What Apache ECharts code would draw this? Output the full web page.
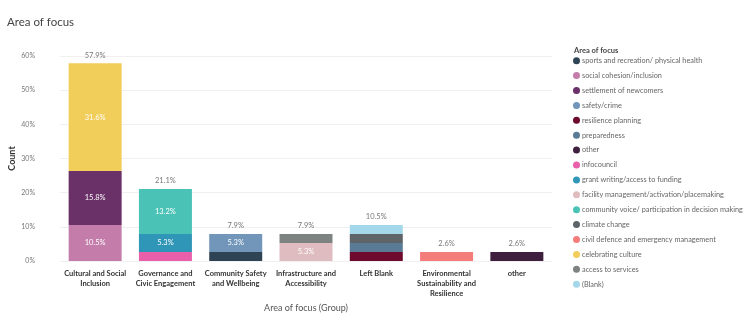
<!DOCTYPE html>
<html>
<head>
<meta charset="utf-8">
<script src="https://cdn.jsdelivr.net/npm/echarts@6/dist/echarts.min.js"></script>
<style>
  html, body { margin: 0; padding: 0; background: #fff; }
  #chart { width: 750px; height: 322px; }
</style>
</head>
<body>
<div id="chart"></div>
<script>
// Groups on the x axis
const categories = [
  'Cultural and Social\nInclusion',
  'Governance and\nCivic Engagement',
  'Community Safety\nand Wellbeing',
  'Infrastructure and\nAccessibility',
  'Left Blank',
  'Environmental\nSustainability and\nResilience',
  'other'
];

const yTicks = [0, 10, 20, 30, 40, 50, 60];

// Share of all responses (%), one array per area of focus, in stacking order
const sportsRecreation   = [0, 0, 2.632, 0, 0, 0, 0];
const socialCohesion     = [10.526, 0, 0, 0, 0, 0, 0];
const settlementNewcomers= [15.789, 0, 0, 0, 0, 0, 0];
const safetyCrime        = [0, 0, 5.263, 0, 0, 0, 0];
const resiliencePlanning = [0, 0, 0, 0, 2.632, 0, 0];
const preparedness       = [0, 0, 0, 0, 2.632, 0, 0];
const otherFocus         = [0, 0, 0, 0, 0, 0, 2.632];
const infocouncil        = [0, 2.632, 0, 0, 0, 0, 0];
const grantWriting       = [0, 5.263, 0, 0, 0, 0, 0];
const facilityManagement = [0, 0, 0, 5.263, 0, 0, 0];
const communityVoice     = [0, 13.158, 0, 0, 0, 0, 0];
const climateChange      = [0, 0, 0, 0, 2.632, 0, 0];
const civilDefence       = [0, 0, 0, 0, 0, 2.632, 0];
const celebratingCulture = [31.579, 0, 0, 0, 0, 0, 0];
const accessServices     = [0, 0, 0, 2.632, 0, 0, 0];
const blankFocus         = [0, 0, 0, 0, 2.632, 0, 0];

const seriesDefs = [
  ['sports and recreation/ physical health', sportsRecreation, '#2E4354'],
  ['social cohesion/inclusion', socialCohesion, '#C47DAB'],
  ['settlement of newcomers', settlementNewcomers, '#6A3068'],
  ['safety/crime', safetyCrime, '#7196B9'],
  ['resilience planning', resiliencePlanning, '#6E0A2E'],
  ['preparedness', preparedness, '#597B95'],
  ['other', otherFocus, '#3E1F3D'],
  ['infocouncil', infocouncil, '#EA5FA9'],
  ['grant writing/access to funding', grantWriting, '#3096B7'],
  ['facility management/activation/placemaking', facilityManagement, '#DFBCC0'],
  ['community voice/ participation in decision making', communityVoice, '#4AC3B6'],
  ['climate change', climateChange, '#5E6467'],
  ['civil defence and emergency management', civilDefence, '#F47C7B'],
  ['celebrating culture', celebratingCulture, '#F1CD59'],
  ['access to services', accessServices, '#7C8381'],
  ['(Blank)', blankFocus, '#A5D7EA']
];

const FONT = '"Segoe UI", Lato, "Open Sans", sans-serif';

// Column totals for the labels above each bar
const totals = categories.map((_, i) =>
  seriesDefs.reduce((s, d) => s + d[1][i], 0)
);
const pct = v => (Math.round(v * 10 + 1e-6) / 10).toFixed(1) + '%';

const series = seriesDefs.map(([name, data, color]) => ({
  name,
  type: 'bar',
  stack: 'focus',
  barWidth: 53,
  data: data.map(v => (v === 0 ? null : v)),
  itemStyle: { color },
  label: {
    show: true,
    position: 'inside',
    color: '#fff',
    fontFamily: FONT,
    fontSize: 7.5,
    formatter: p => (p.value >= 5 ? pct(p.value) : '')
  }
}));

series.push({
  name: 'Total',
  type: 'bar',
  stack: 'focus',
  barWidth: 53,
  data: categories.map(() => 0),
  itemStyle: { color: 'transparent' },
  label: {
    show: true,
    position: 'top',
    distance: 4,
    color: '#777',
    fontFamily: FONT,
    fontSize: 7.5,
    formatter: p => pct(totals[p.dataIndex])
  },
  tooltip: { show: false }
});

const chart = echarts.init(document.getElementById('chart'), null, { renderer: 'canvas' });
chart.setOption({
  animation: false,
  backgroundColor: '#fff',
  textStyle: { fontFamily: FONT },
  title: [
    {
      text: 'Area of focus',
      left: 2, top: 11,
      textStyle: { fontFamily: FONT, fontSize: 11.5, fontWeight: 'normal', color: '#444' }
    },
    {
      text: 'Area of focus',
      left: 569, top: 42,
      textStyle: { fontFamily: FONT, fontSize: 7.5, fontWeight: 'bold', color: '#444' }
    }
  ],
  legend: {
    orient: 'vertical',
    left: 573,
    top: 55.7,
    data: seriesDefs.map(d => d[0]),
    icon: 'circle',
    itemWidth: 7,
    itemHeight: 7,
    itemGap: 4.9,
    padding: 0,
    textStyle: { fontFamily: FONT, fontSize: 7.3, color: '#666', lineHeight: 10, padding: [0, 0, 0, -3] }
  },
  grid: { left: 60, right: 198, top: 56, bottom: 61, outerBoundsMode: 'none', containLabel: false },
  xAxis: {
    type: 'category',
    data: categories,
    axisLine: { show: false },
    axisTick: { show: false },
    axisLabel: {
      interval: 0,
      margin: 8,
      color: '#333',
      fontFamily: FONT,
      fontSize: 7.5,
      fontWeight: 'bold',
      lineHeight: 10
    },
    name: 'Area of focus (Group)',
    nameLocation: 'middle',
    nameGap: 42,
    nameTextStyle: { fontFamily: FONT, fontSize: 9, color: '#555' }
  },
  yAxis: {
    type: 'value',
    min: yTicks[0],
    max: yTicks[yTicks.length - 1],
    interval: yTicks[1] - yTicks[0],
    axisLabel: {
      margin: 25,
      color: '#777',
      fontFamily: FONT,
      fontSize: 7,
      formatter: v => v + '%'
    },
    splitLine: { lineStyle: { color: '#f0f0f0', width: 1 } },
    name: 'Count',
    nameLocation: 'middle',
    nameGap: 43,
    nameMoveOverlap: false,
    nameTextStyle: { fontFamily: FONT, fontSize: 9, fontWeight: 'bold', color: '#333' }
  },
  series
});
</script>
</body>
</html>
